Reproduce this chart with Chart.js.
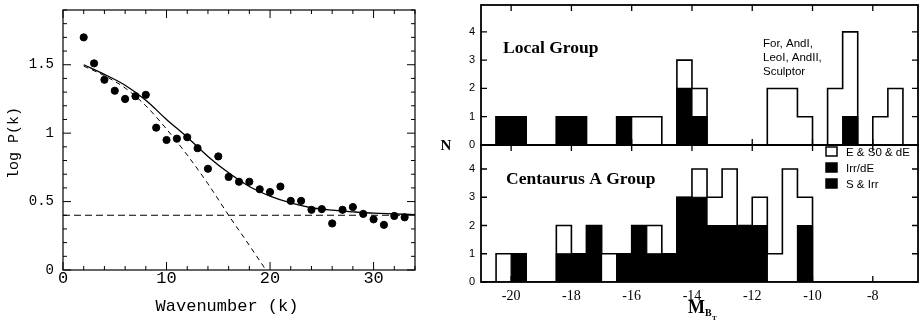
<!DOCTYPE html>
<html><head><meta charset="utf-8">
<script src="https://cdn.jsdelivr.net/npm/chart.js@4.4.1/dist/chart.umd.min.js"></script>
<style>
html,body{margin:0;padding:0;background:#fff;}
#wrap{position:relative;width:921px;height:327px;overflow:hidden;background:#fff;}
canvas{position:absolute;left:0;top:0;}
</style></head><body>
<div id="wrap">
<canvas id="cLeft" width="921" height="327"></canvas>
<canvas id="cTop" width="921" height="327"></canvas>
<canvas id="cBot" width="921" height="327"></canvas>
</div>
<script>
// ---------- DATA: left panel (power spectrum) ----------
const wavenumber = [2,3,4,5,6,7,8,9,10,11,12,13,14,15,16,17,18,19,20,21,22,23,24,25,26,27,28,29,30,31,32,33];
const logPower   = [1.70,1.51,1.39,1.31,1.25,1.27,1.28,1.04,0.95,0.96,0.97,0.89,0.74,0.83,0.68,0.645,0.645,0.59,0.57,0.61,0.505,0.505,0.44,0.445,0.34,0.44,0.46,0.41,0.37,0.33,0.395,0.385];
const fitK       = [2,4,6,8,10,12,14,16,18,20,22,24,26,28,30,32,34];
const fitLogP    = [1.50,1.43,1.35,1.24,1.10,0.97,0.83,0.71,0.61,0.54,0.49,0.455,0.437,0.425,0.415,0.41,0.405];
const steepK     = [2,4,6,8,10,12,14,16,18,19.6];
const steepLogP  = [1.49,1.42,1.33,1.20,1.03,0.84,0.63,0.40,0.18,0.0];
const floorK     = [0,34];
const floorLogP  = [0.40,0.40];
const kTickLabels = [0,10,20,30];
const logPTickLabels = [0,0.5,1,1.5];

// ---------- DATA: right panels (luminosity functions) ----------
const magEdges = [-21,-20.5,-20,-19.5,-19,-18.5,-18,-17.5,-17,-16.5,-16,-15.5,-15,-14.5,-14,-13.5,-13,-12.5,-12,-11.5,-11,-10.5,-10,-9.5,-9,-8.5,-8,-7.5,-7,-6.5];
const localAll   = [0,1,1,0,0,1,1,0,0,1,1,1,0,3,2,0,0,0,0,2,2,1,0,2,4,0,1,2,0];
const localIrr   = [0,1,1,0,0,1,1,0,0,1,0,0,0,2,1,0,0,0,0,0,0,0,0,0,1,0,0,0,0];
const cenAAll    = [0,1,1,0,0,2,1,2,1,1,2,2,1,3,4,3,4,2,3,1,4,3,0,0,0,0,0,0,0];
const cenAIrr    = [0,0,1,0,0,1,1,2,0,1,2,1,1,3,3,2,2,2,2,0,0,2,0,0,0,0,0,0,0];
const magTickLabels = [-20,-18,-16,-14,-12,-10,-8];
const nTickLabels = [0,1,2,3,4];
const legendLabels = ['E & S0 & dE','Irr/dE','S & Irr'];
const legendFills  = ['#fff','#000','#000'];

// ---------- helpers ----------
const toPts = (xs, ys) => xs.map((x,i)=>({x:x, y:ys[i]}));
const stepPts = counts => counts.map((c,i)=>({x:magEdges[i], y:c})).concat([{x:magEdges[counts.length], y:0}]);
const noPad = s => { s.paddingTop = 0; s.paddingBottom = 0; s.paddingLeft = 0; s.paddingRight = 0; };

const frameTicks = {
  id:'frameTicks',
  afterDatasetsDraw(chart, args, o){
    const ctx = chart.ctx, a = chart.chartArea;
    const xs = chart.scales.x, ys = chart.scales.y;
    ctx.save();
    ctx.strokeStyle = '#000';
    ctx.lineWidth = o.tickWidth || 1;
    ctx.beginPath();
    (o.xTicks||[]).forEach(([v,len])=>{
      const p = xs.getPixelForValue(v);
      ctx.moveTo(p, a.bottom); ctx.lineTo(p, a.bottom-len);
      ctx.moveTo(p, a.top); ctx.lineTo(p, a.top+len);
    });
    (o.yTicks||[]).forEach(([v,len])=>{
      const p = ys.getPixelForValue(v);
      ctx.moveTo(a.left, p); ctx.lineTo(a.left+len, p);
      ctx.moveTo(a.right, p); ctx.lineTo(a.right-len, p);
    });
    ctx.stroke();
    ctx.lineWidth = o.frameWidth || 1;
    ctx.strokeRect(a.left, a.top, a.right-a.left, a.bottom-a.top);
    ctx.restore();
  }
};
const texts = {
  id:'texts',
  afterDraw(chart, args, o){
    const ctx = chart.ctx;
    ctx.save();
    ctx.fillStyle = '#000';
    (o.items||[]).forEach(t=>{
      ctx.font = t.font;
      ctx.textAlign = t.align || 'left';
      ctx.textBaseline = 'alphabetic';
      if (t.rotate) { ctx.save(); ctx.translate(t.x,t.y); ctx.rotate(t.rotate); ctx.fillText(t.text,0,0); ctx.restore(); }
      else ctx.fillText(t.text, t.x, t.y);
    });
    (o.legend||[]).forEach(l=>{
      ctx.fillStyle = l.fill; ctx.fillRect(l.x, l.y, 11, 9);
      ctx.strokeStyle = '#000'; ctx.lineWidth = 1.5; ctx.strokeRect(l.x, l.y, 11, 9);
      ctx.fillStyle = '#000'; ctx.font = '11.5px "Liberation Sans"'; ctx.textAlign='left';
      ctx.fillText(l.text, l.x+20, l.y+9);
    });
    ctx.restore();
  }
};
const common = {animation:false, responsive:false, events:[]};

// ---------- left chart ----------
const kMinor = []; for (let v=0; v<=34; v+=2) kMinor.push([v, v%10===0 ? 8 : 4]);
const pMinor = []; for (let i=0; i<=19; i++) pMinor.push([i/10, i%5===0 ? 8 : 4]);
const monoFont = '"Liberation Mono", "DejaVu Sans Mono", monospace';

new Chart(document.getElementById('cLeft'), {
  type:'scatter',
  data:{datasets:[
    {data:toPts(wavenumber, logPower), pointRadius:3.6, pointBackgroundColor:'#000', pointBorderColor:'#000', showLine:false},
    {data:toPts(fitK, fitLogP), showLine:true, pointRadius:0, borderColor:'#000', borderWidth:1.3, cubicInterpolationMode:'monotone', fill:false},
    {data:toPts(steepK, steepLogP), showLine:true, pointRadius:0, borderColor:'#000', borderWidth:1, borderDash:[5,4], cubicInterpolationMode:'monotone', fill:false},
    {data:toPts(floorK, floorLogP), showLine:true, pointRadius:0, borderColor:'#000', borderWidth:1, borderDash:[7,4], fill:false}
  ]},
  options:Object.assign({}, common, {
    layout:{padding:{left:0, top:10, right:506, bottom:0}},
    plugins:{legend:{display:false}, tooltip:{enabled:false},
      frameTicks:{xTicks:kMinor, yTicks:pMinor, frameWidth:1.2, tickWidth:1},
      texts:{items:[
        {text:'Wavenumber (k)', x:227, y:311, align:'center', font:'17px '+monoFont},
        {text:'log P(k)', x:18, y:143, align:'center', font:'15px '+monoFont, rotate:-Math.PI/2}
      ]}},
    scales:{
      x:{type:'linear', min:0, max:34, afterFit:s=>{s.height=57; noPad(s);},
         afterBuildTicks:s=>{s.ticks = kTickLabels.map(v=>({value:v}));},
         grid:{display:false, drawTicks:false}, border:{display:false},
         ticks:{font:{family:'Liberation Mono', size:17}, color:'#000', padding:-2, maxRotation:0, callback:v=>String(v)}},
      y:{type:'linear', min:0, max:1.9, afterFit:s=>{s.width=63; noPad(s);},
         afterBuildTicks:s=>{s.ticks = logPTickLabels.map(v=>({value:v}));},
         grid:{display:false, drawTicks:false}, border:{display:false},
         ticks:{font:{family:'Liberation Mono', size:14}, color:'#000', padding:9, callback:v=>String(v)}}
    }
  }),
  plugins:[frameTicks, texts]
});

// ---------- right charts ----------
const magT = magTickLabels.map(v=>[v,6]);
const nT = nTickLabels.map(v=>[v,6]);
function histDatasets(all, irr){
  return [
    {data:stepPts(irr), stepped:'before', fill:'origin', backgroundColor:'#000', borderColor:'#000', borderWidth:1.2, pointRadius:0},
    {data:stepPts(all), stepped:'before', fill:'origin', backgroundColor:'#fff', borderColor:'#000', borderWidth:1.6, pointRadius:0}
  ];
}
function histOptions(isTop, items, legend){
  return Object.assign({}, common, {
    layout:{padding: isTop ? {left:0, top:5, right:3, bottom:182} : {left:0, top:145, right:3, bottom:0}},
    plugins:{legend:{display:false}, tooltip:{enabled:false},
      frameTicks:{xTicks:magT, yTicks:nT, frameWidth:1.8, tickWidth:1.3},
      texts:{items:items, legend:legend}},
    scales:{
      x:{type:'linear', min:-21, max:-6.5, display:!isTop,
         afterFit:s=>{ if(!isTop) s.height=45; noPad(s); },
         afterBuildTicks:s=>{s.ticks = magTickLabels.map(v=>({value:v}));},
         grid:{display:false, drawTicks:false}, border:{display:false},
         ticks:{font:{family:'Liberation Serif', size:14}, color:'#000', padding:6, maxRotation:0,
                callback:v=>String(v)}},
      y:{type:'linear', min:0, max: isTop ? 4.95 : 4.85, afterFit:s=>{s.width=481; noPad(s);},
         afterBuildTicks:s=>{s.ticks = nTickLabels.map(v=>({value:v}));},
         grid:{display:false, drawTicks:false}, border:{display:false},
         ticks:{font:{family:'Liberation Sans', size:11}, color:'#000', padding:6}}
    }
  });
}
const serifB = '"Liberation Serif", serif';
new Chart(document.getElementById('cTop'), {
  type:'line',
  data:{datasets:histDatasets(localAll, localIrr)},
  options:histOptions(true, [
    {text:'Local Group', x:503, y:53, font:'bold 17.5px '+serifB},
    {text:'For, AndI,', x:763, y:47, font:'11.5px "Liberation Sans"'},
    {text:'LeoI, AndII,', x:763, y:61, font:'11.5px "Liberation Sans"'},
    {text:'Sculptor', x:763, y:75, font:'11.5px "Liberation Sans"'}
  ], []),
  plugins:[frameTicks, texts]
});
new Chart(document.getElementById('cBot'), {
  type:'line',
  data:{datasets:histDatasets(cenAAll, cenAIrr)},
  options:histOptions(false, [
    {text:'Centaurus A Group', x:506, y:184, font:'bold 17.5px '+serifB},
    {text:'N', x:446, y:150, align:'center', font:'bold 15px '+serifB},
    {text:'M', x:688, y:313, font:'bold 18px '+serifB},
    {text:'B', x:705, y:316, font:'bold 10px '+serifB},
    {text:'T', x:712, y:320, font:'bold 7px '+serifB}
  ], legendLabels.map((t,i)=>({text:t, fill:legendFills[i], x:826, y:147+16*i}))),
  plugins:[frameTicks, texts]
});
</script>
</body></html>
